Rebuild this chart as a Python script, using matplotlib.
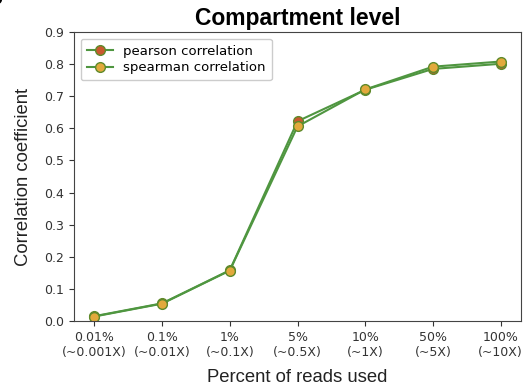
import matplotlib
matplotlib.use("Agg")
import matplotlib.pyplot as plt

plt.rcParams['font.family'] = ['DejaVu Sans']

# fraction of reads kept at each downsampling step
percent_labels = ['0.01%\n(~0.001X)', '0.1%\n(~0.01X)', '1%\n(~0.1X)', '5%\n(~0.5X)',
                  '10%\n(~1X)', '50%\n(~5X)', '100%\n(~10X)']
pearson = [0.015, 0.055, 0.158, 0.622, 0.720, 0.785, 0.801]
spearman = [0.014, 0.054, 0.157, 0.606, 0.721, 0.792, 0.808]

line_green = '#4f9640'
edge_green = '#5f8a2a'
helv = ['Liberation Sans', 'DejaVu Sans']

fig = plt.figure(figsize=(5.26, 3.92), dpi=100)
ax = fig.add_axes([0.1407, 0.1811, 0.8498, 0.7373])

x = list(range(len(percent_labels)))
ax.plot(x, pearson, '-o', color=line_green, lw=1.5, ms=7,
        mfc='#c9592e', mec=edge_green, mew=1.0, label='pearson correlation')
ax.plot(x, spearman, '-o', color=line_green, lw=1.5, ms=7,
        mfc='#e2a93c', mec=edge_green, mew=1.0, label='spearman correlation')

ax.set_ylim(0, 0.9)
ax.set_yticks([i / 10 for i in range(10)])
ax.set_yticklabels([f'{i / 10:.1f}' for i in range(10)])
ax.set_xticks(x)
ax.set_xticklabels(percent_labels, linespacing=1.25)
ax.tick_params(labelsize=9, colors='#333333', labelcolor='#333333')
for s in ax.spines.values():
    s.set_color('#444444')

ax.set_title('Compartment level', fontsize=16.5, fontweight='bold', pad=5, family=helv)
ax.set_xlabel('Percent of reads used', fontsize=13.3, labelpad=7, color='#222222', family=helv)
ax.set_ylabel('Correlation coefficient', fontsize=13.3, labelpad=9, color='#222222', family=helv)

ax.legend(loc='upper left', fontsize=9.5, handlelength=2.0, borderpad=0.45,
          labelspacing=0.3, framealpha=1, edgecolor='#cccccc')

# panel letter, partly off the top-left corner
fig.text(-0.02, 1.025, 'b', fontsize=13, fontweight='bold', va='top', ha='left')

fig.savefig('out.png', dpi=100)
